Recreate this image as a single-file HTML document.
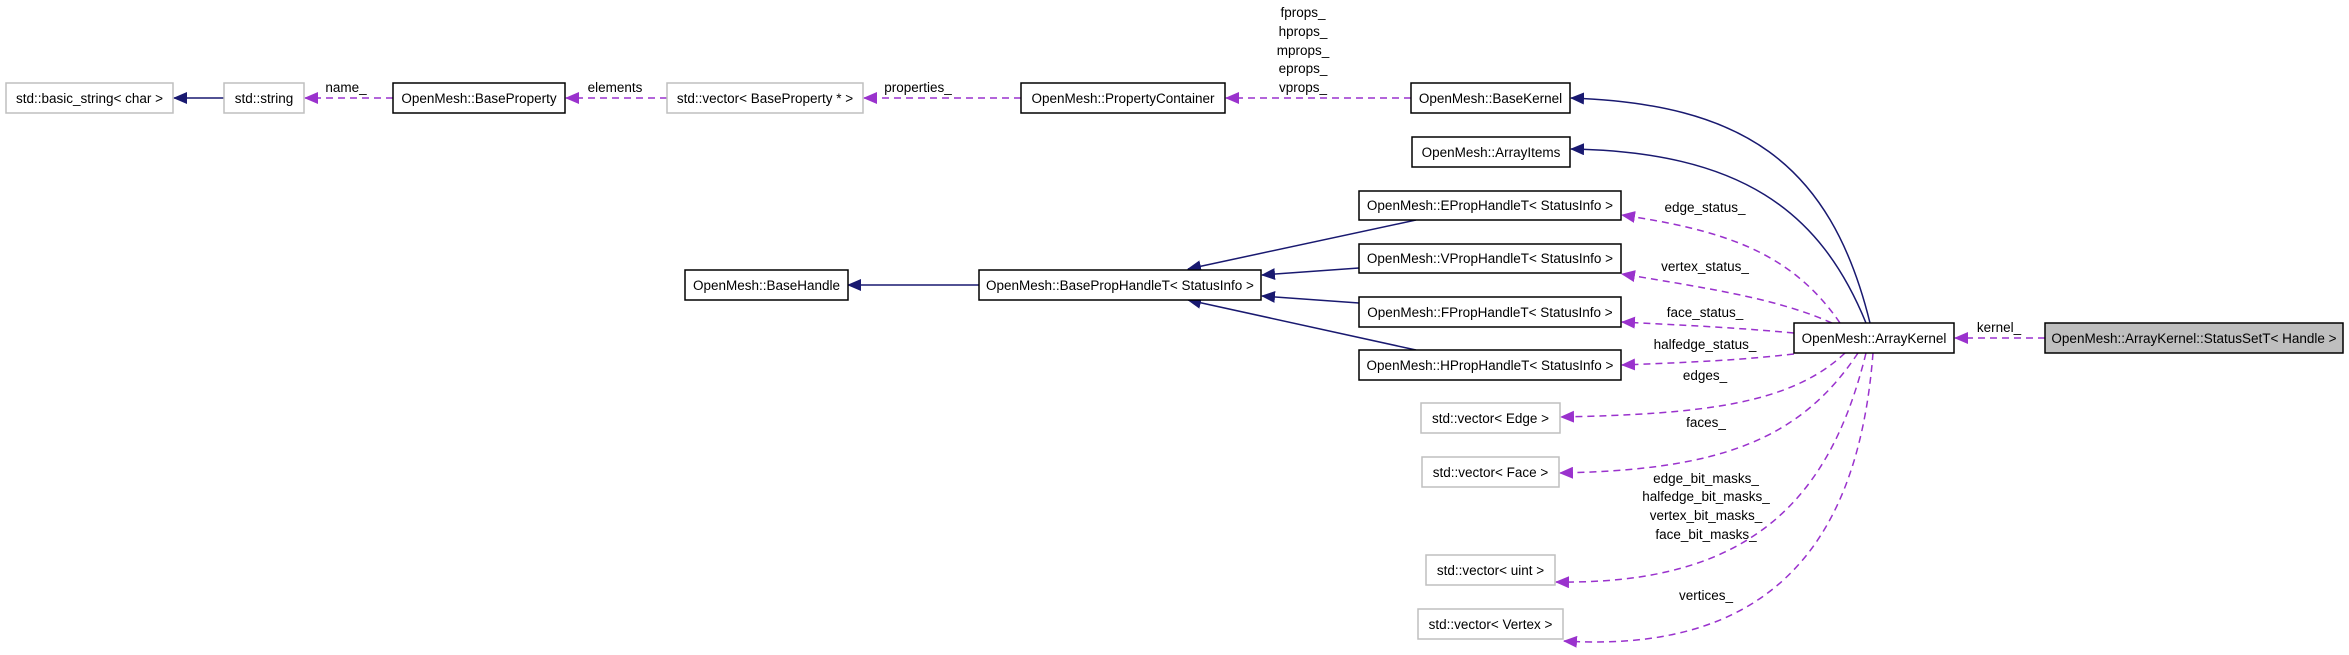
<!DOCTYPE html>
<html><head><meta charset="utf-8"><style>
html,body{margin:0;padding:0;background:#fff;}
svg text{font-family:"Liberation Sans",sans-serif;font-size:13.5px;fill:#000;}
</style></head><body>
<svg width="2349" height="650" viewBox="0 0 2349 650" xmlns="http://www.w3.org/2000/svg">
<defs>
<marker id="an" markerWidth="14" markerHeight="12" refX="13" refY="6" orient="auto" markerUnits="userSpaceOnUse"><path d="M0,0 L14,6 L0,12 z" fill="#191970"/></marker>
<marker id="ap" markerWidth="14" markerHeight="12" refX="13" refY="6" orient="auto" markerUnits="userSpaceOnUse"><path d="M0,0 L14,6 L0,12 z" fill="#9a32cd"/></marker>
</defs>
<g fill="none" stroke="#191970" stroke-width="1.5" marker-end="url(#an)">
<path d="M224,98 L174,98"/>
<path d="M979,285 L848,285"/>
<path d="M1416,220 L1188,269"/>
<path d="M1359,268 L1262,275"/>
<path d="M1359,303 L1262,296"/>
<path d="M1416,350 L1188,300"/>
<path d="M1870,323 C1830,160 1740,104 1571,98"/>
<path d="M1866,323 C1820,210 1740,152 1571,149"/>
</g>
<g fill="none" stroke="#9a32cd" stroke-width="1.5" stroke-dasharray="7,5" marker-end="url(#ap)">
<path d="M393,98 L305,98"/>
<path d="M667,98 L566,98"/>
<path d="M1021,98 L864,98"/>
<path d="M1411,98 L1226,98"/>
<path d="M1840,323 C1790,250 1720,230 1622,215"/>
<path d="M1832,323 C1780,300 1720,290 1622,274"/>
<path d="M1794,333 C1740,328 1700,326 1622,322"/>
<path d="M1794,354 C1740,360 1700,362 1622,365"/>
<path d="M1845,353 C1790,405 1700,414 1561,417"/>
<path d="M1858,353 C1800,440 1720,470 1560,473"/>
<path d="M1866,353 C1830,500 1750,585 1556,582"/>
<path d="M1873,353 C1860,520 1790,655 1564,641"/>
<path d="M2045,338 L1955,338"/>
</g>
<g stroke-width="1.5">
<rect x="6" y="83" width="167" height="30" fill="#fff" stroke="#bfbfbf"/>
<rect x="224" y="83" width="80" height="30" fill="#fff" stroke="#bfbfbf"/>
<rect x="393" y="83" width="172" height="30" fill="#fff" stroke="#000"/>
<rect x="667" y="83" width="196" height="30" fill="#fff" stroke="#bfbfbf"/>
<rect x="1021" y="83" width="204" height="30" fill="#fff" stroke="#000"/>
<rect x="1411" y="83" width="159" height="30" fill="#fff" stroke="#000"/>
<rect x="1412" y="137" width="158" height="30" fill="#fff" stroke="#000"/>
<rect x="685" y="270" width="163" height="30" fill="#fff" stroke="#000"/>
<rect x="979" y="270" width="282" height="30" fill="#fff" stroke="#000"/>
<rect x="1359" y="191" width="262" height="29" fill="#fff" stroke="#000"/>
<rect x="1359" y="244" width="262" height="29" fill="#fff" stroke="#000"/>
<rect x="1359" y="297" width="262" height="30" fill="#fff" stroke="#000"/>
<rect x="1359" y="350" width="262" height="30" fill="#fff" stroke="#000"/>
<rect x="1794" y="323" width="160" height="30" fill="#fff" stroke="#000"/>
<rect x="2045" y="323" width="298" height="30" fill="#bfbfbf" stroke="#000"/>
<rect x="1421" y="403" width="139" height="30" fill="#fff" stroke="#bfbfbf"/>
<rect x="1422" y="457" width="137" height="30" fill="#fff" stroke="#bfbfbf"/>
<rect x="1426" y="555" width="129" height="30" fill="#fff" stroke="#bfbfbf"/>
<rect x="1418" y="609" width="145" height="30" fill="#fff" stroke="#bfbfbf"/>
</g>
<g text-anchor="middle">
<text x="89.5" y="103">std::basic_string&lt; char &gt;</text>
<text x="264" y="103">std::string</text>
<text x="479" y="103">OpenMesh::BaseProperty</text>
<text x="765" y="103">std::vector&lt; BaseProperty * &gt;</text>
<text x="1123" y="103">OpenMesh::PropertyContainer</text>
<text x="1490.5" y="103">OpenMesh::BaseKernel</text>
<text x="1491" y="157">OpenMesh::ArrayItems</text>
<text x="766.5" y="290">OpenMesh::BaseHandle</text>
<text x="1120" y="290">OpenMesh::BasePropHandleT&lt; StatusInfo &gt;</text>
<text x="1490" y="210">OpenMesh::EPropHandleT&lt; StatusInfo &gt;</text>
<text x="1490" y="263">OpenMesh::VPropHandleT&lt; StatusInfo &gt;</text>
<text x="1490" y="317">OpenMesh::FPropHandleT&lt; StatusInfo &gt;</text>
<text x="1490" y="370">OpenMesh::HPropHandleT&lt; StatusInfo &gt;</text>
<text x="1874" y="343">OpenMesh::ArrayKernel</text>
<text x="2194" y="343">OpenMesh::ArrayKernel::StatusSetT&lt; Handle &gt;</text>
<text x="1490.5" y="423">std::vector&lt; Edge &gt;</text>
<text x="1490.5" y="477">std::vector&lt; Face &gt;</text>
<text x="1490.5" y="575">std::vector&lt; uint &gt;</text>
<text x="1490.5" y="629">std::vector&lt; Vertex &gt;</text>
<text x="346" y="92">name_</text>
<text x="615" y="92">elements</text>
<text x="918" y="92">properties_</text>
<text x="1303" y="17">fprops_</text>
<text x="1303" y="36">hprops_</text>
<text x="1303" y="55">mprops_</text>
<text x="1303" y="73">eprops_</text>
<text x="1303" y="92">vprops_</text>
<text x="1705" y="212">edge_status_</text>
<text x="1705" y="271">vertex_status_</text>
<text x="1705" y="317">face_status_</text>
<text x="1705" y="349">halfedge_status_</text>
<text x="1705" y="380">edges_</text>
<text x="1706" y="427">faces_</text>
<text x="1706" y="483">edge_bit_masks_</text>
<text x="1706" y="501">halfedge_bit_masks_</text>
<text x="1706" y="520">vertex_bit_masks_</text>
<text x="1706" y="539">face_bit_masks_</text>
<text x="1706" y="600">vertices_</text>
<text x="1999" y="332">kernel_</text>
</g>
</svg>
</body></html>
